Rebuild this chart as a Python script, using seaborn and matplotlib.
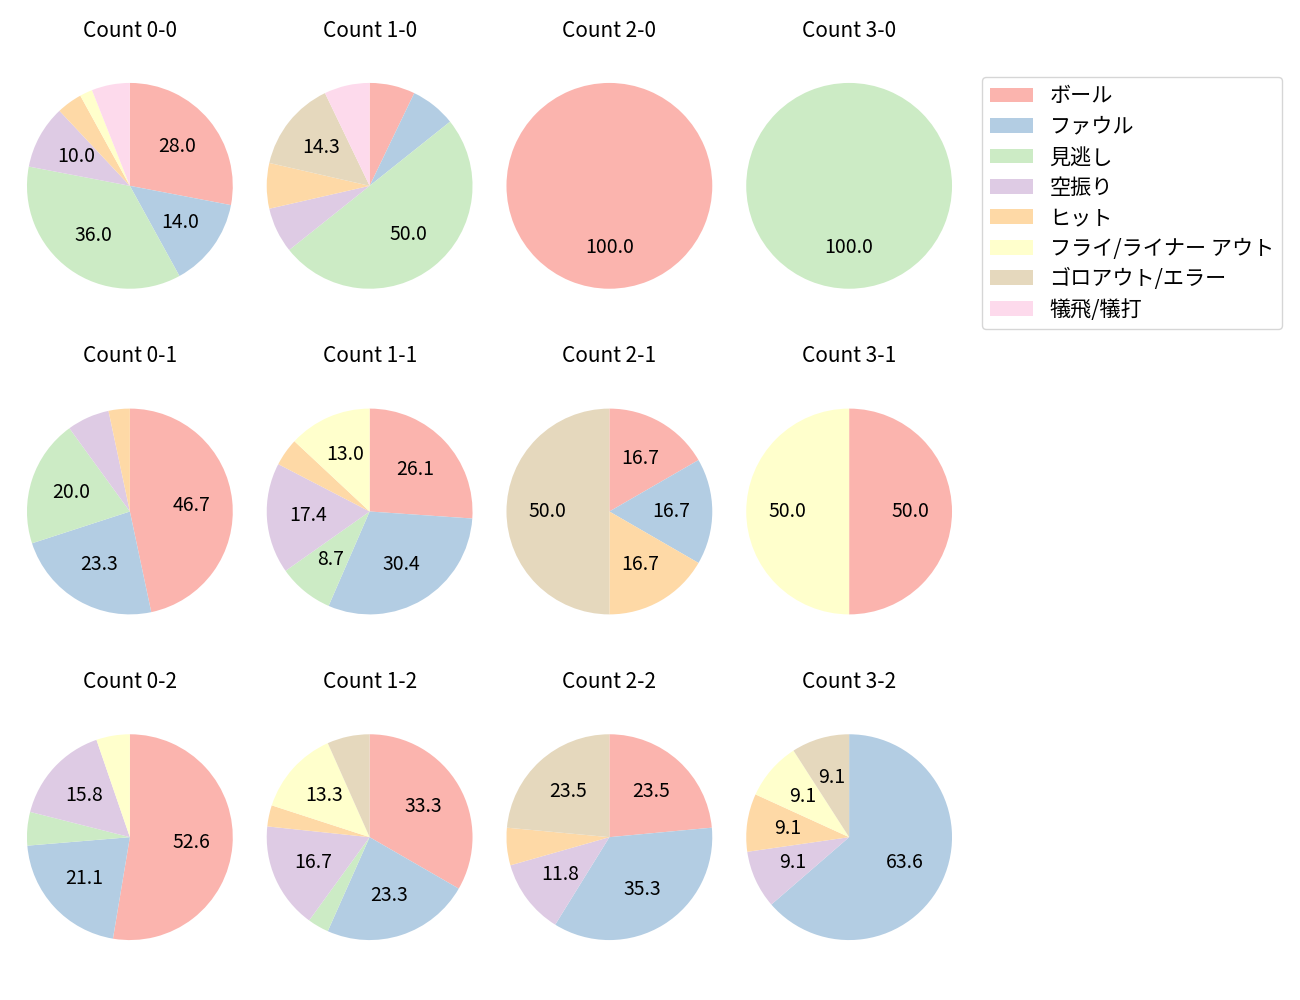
import matplotlib
matplotlib.use("Agg")
import matplotlib.pyplot as plt
import seaborn as sns
from matplotlib.patches import Patch

plt.rcParams['font.family'] = ['Noto Sans CJK JP', 'DejaVu Sans']

categories = ["ボール", "ファウル", "見逃し", "空振り", "ヒット",
              "フライ/ライナー アウト", "ゴロアウト/エラー", "犠飛/犠打"]

titles = [["Count 0-0", "Count 1-0", "Count 2-0", "Count 3-0"],
          ["Count 0-1", "Count 1-1", "Count 2-1", "Count 3-1"],
          ["Count 0-2", "Count 1-2", "Count 2-2", "Count 3-2"]]

# counts per category (order as in categories)
c00 = [14, 7, 18, 5, 2, 1, 0, 3]
c10 = [1, 1, 7, 1, 1, 0, 2, 1]
c20 = [1, 0, 0, 0, 0, 0, 0, 0]
c30 = [0, 0, 1, 0, 0, 0, 0, 0]
c01 = [14, 7, 6, 2, 1, 0, 0, 0]
c11 = [6, 7, 2, 4, 1, 3, 0, 0]
c21 = [1, 1, 0, 0, 1, 0, 3, 0]
c31 = [1, 0, 0, 0, 0, 1, 0, 0]
c02 = [10, 4, 1, 3, 0, 1, 0, 0]
c12 = [10, 7, 1, 5, 1, 4, 2, 0]
c22 = [4, 6, 0, 2, 1, 0, 4, 0]
c32 = [0, 7, 0, 1, 1, 1, 1, 0]

data = [[c00, c10, c20, c30],
        [c01, c11, c21, c31],
        [c02, c12, c22, c32]]

colors = sns.color_palette("Pastel1", 8)

fig, axes = plt.subplots(3, 4, figsize=(13, 10), dpi=100)
fig.subplots_adjust(left=10/1300, right=969/1300, top=1-23/1000, bottom=0.0,
                    wspace=0, hspace=0)

L = 120/103

def fmt(p):
    return f"{p:.1f}" if p >= 8 else ""

for i in range(3):
    for j in range(4):
        ax = axes[i, j]
        vals = data[i][j]
        v = [x for x in vals if x > 0]
        cols = [colors[k] for k, x in enumerate(vals) if x > 0]
        ax.pie(v, colors=cols, startangle=90, counterclock=False,
               autopct=fmt, pctdistance=0.6, textprops={'fontsize': 14},
               wedgeprops={'linewidth': 0})
        ax.set_xlim(-L, L)
        ax.set_ylim(-L, L)
        ax.set_aspect('equal')
        ax.set_title(titles[i][j], fontsize=15, pad=21)

handles = [Patch(facecolor=colors[k], label=categories[k]) for k in range(8)]
fig.legend(handles=handles, loc='upper left',
           bbox_to_anchor=(982/1300, 1-77/1000), borderaxespad=0,
           fontsize=15.2, handlelength=2.0, labelspacing=0.4)

fig.savefig("out.png", dpi=100)
